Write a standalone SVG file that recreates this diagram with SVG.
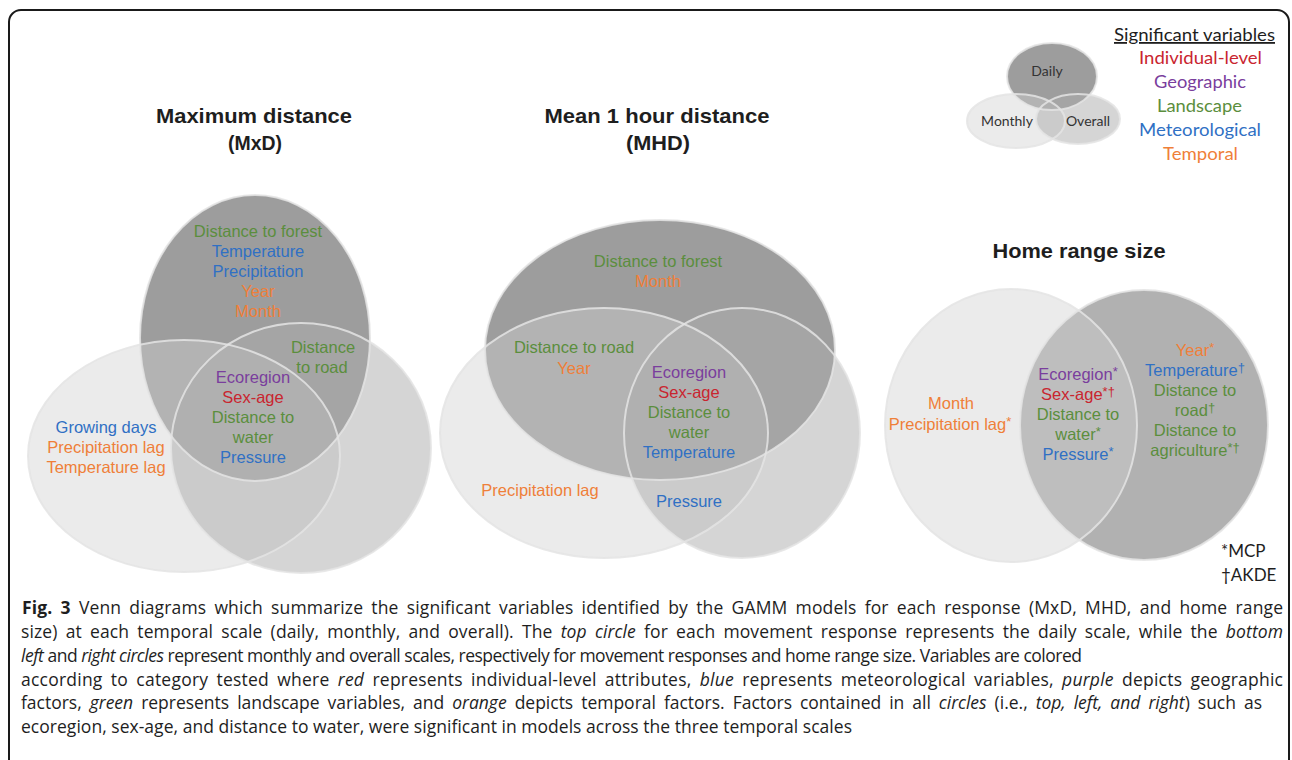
<svg xmlns="http://www.w3.org/2000/svg" width="1292" height="760" viewBox="0 0 1292 760">
  <style>
    .bg { fill: #ffffff; }
    .frame { fill: none; stroke: #1a1a1a; stroke-width: 2; }
    .daily { fill: #9d9d9d; }
    .monthly { fill: #d0d0d0; fill-opacity: 0.43; }
    .overall { fill: #adadad; fill-opacity: 0.51; }
    .overall-hr { fill: #b1b1b1; }
    .edge { fill: none; stroke: #e4e4e4; stroke-width: 2; stroke-opacity: 0.85; }
    .title { font-family: "Liberation Sans", Arial, sans-serif; font-weight: bold; font-size: 21px; fill: #1e1e1e; text-anchor: middle; }
    .v { font-family: "Liberation Sans", Arial, sans-serif; font-size: 16.5px; text-anchor: middle; }
    .g { fill: #5b8e3d; }
    .b { fill: #3070c4; }
    .o { fill: #ef7f39; }
    .p { fill: #7a3e9d; }
    .r { fill: #c9252f; }
    .lg { font-family: Lato, "Open Sans", sans-serif; font-size: 18px; text-anchor: middle; }
    .lk { font-family: Lato, "Open Sans", sans-serif; font-size: 14px; fill: #333333; text-anchor: middle; }
    .note { font-family: Lato, "Open Sans", sans-serif; font-size: 17px; fill: #1e1e1e; }
    .cap { font-family: "Open Sans", "Liberation Sans", sans-serif; font-size: 17.5px; fill: #1e1e1e; }
    .just { word-spacing: 3.5px; }
    .sup { font-size: 13px; }
  </style>

  <rect class="bg" x="0" y="0" width="1292" height="760"/>
  <rect class="frame" x="9" y="10" width="1280" height="800" rx="12" ry="12"/>

  <!-- Maximum distance (MxD) -->
  <g id="venn-mxd">
    <text class="title" x="254" y="123" textLength="196" lengthAdjust="spacingAndGlyphs">Maximum distance</text>
    <text class="title" x="255" y="150" textLength="54" lengthAdjust="spacingAndGlyphs">(MxD)</text>
    <g id="mxd-daily"><ellipse class="daily" cx="255" cy="338" rx="115" ry="143"/></g>
    <g id="mxd-monthly"><ellipse class="monthly" cx="184" cy="456" rx="156" ry="116"/></g>
    <g id="mxd-overall"><ellipse class="overall" cx="301" cy="448" rx="130" ry="125"/></g>
    <ellipse class="edge" cx="255" cy="338" rx="115" ry="143"/>
    <ellipse class="edge" cx="184" cy="456" rx="156" ry="116"/>
    <ellipse class="edge" cx="301" cy="448" rx="130" ry="125"/>
    <g class="v">
      <text class="g" x="258" y="237">Distance to forest</text>
      <text class="b" x="258" y="257">Temperature</text>
      <text class="b" x="258" y="277">Precipitation</text>
      <text class="o" x="258" y="297">Year</text>
      <text class="o" x="258" y="317">Month</text>
      <text class="g" x="323" y="353">Distance</text>
      <text class="g" x="322" y="373">to road</text>
      <text class="p" x="253" y="383">Ecoregion</text>
      <text class="r" x="253" y="403">Sex-age</text>
      <text class="g" x="253" y="423">Distance to</text>
      <text class="g" x="253" y="443">water</text>
      <text class="b" x="253" y="463">Pressure</text>
      <text class="b" x="106" y="433">Growing days</text>
      <text class="o" x="106" y="453">Precipitation lag</text>
      <text class="o" x="106" y="473">Temperature lag</text>
    </g>
  </g>

  <!-- Mean 1 hour distance (MHD) -->
  <g id="venn-mhd">
    <text class="title" x="657" y="123" textLength="225" lengthAdjust="spacingAndGlyphs">Mean 1 hour distance</text>
    <text class="title" x="658" y="150" textLength="64" lengthAdjust="spacingAndGlyphs">(MHD)</text>
    <g id="mhd-daily"><ellipse class="daily" cx="660" cy="350" rx="175" ry="130"/></g>
    <g id="mhd-monthly"><ellipse class="monthly" cx="604" cy="433" rx="164" ry="125"/></g>
    <g id="mhd-overall"><ellipse class="overall" cx="742" cy="433" rx="118" ry="125"/></g>
    <ellipse class="edge" cx="660" cy="350" rx="175" ry="130"/>
    <ellipse class="edge" cx="604" cy="433" rx="164" ry="125"/>
    <ellipse class="edge" cx="742" cy="433" rx="118" ry="125"/>
    <g class="v">
      <text class="g" x="658" y="267">Distance to forest</text>
      <text class="o" x="658" y="287">Month</text>
      <text class="g" x="574" y="353">Distance to road</text>
      <text class="o" x="574" y="374">Year</text>
      <text class="p" x="689" y="378">Ecoregion</text>
      <text class="r" x="689" y="398">Sex-age</text>
      <text class="g" x="689" y="418">Distance to</text>
      <text class="g" x="689" y="438">water</text>
      <text class="b" x="689" y="458">Temperature</text>
      <text class="o" x="540" y="496">Precipitation lag</text>
      <text class="b" x="689" y="507">Pressure</text>
    </g>
  </g>

  <!-- Home range size -->
  <g id="venn-home-range">
    <text class="title" x="1079" y="258" textLength="173" lengthAdjust="spacingAndGlyphs">Home range size</text>
    <g id="hr-overall"><ellipse class="overall-hr" cx="1144" cy="425" rx="124" ry="135"/></g>
    <g id="hr-monthly"><ellipse class="monthly" cx="1011" cy="425.5" rx="126" ry="136.5"/></g>
    <ellipse class="edge" cx="1144" cy="425" rx="124" ry="135"/>
    <ellipse class="edge" cx="1011" cy="425.5" rx="126" ry="136.5"/>
    <g class="v">
      <text class="o" x="951" y="409">Month</text>
      <text class="o" x="950" y="430">Precipitation lag<tspan class="sup" dy="-4">*</tspan></text>
      <text class="p" x="1078" y="380">Ecoregion<tspan class="sup" dy="-4">*</tspan></text>
      <text class="r" x="1078" y="400">Sex-age<tspan class="sup" dy="-4">*†</tspan></text>
      <text class="g" x="1078" y="420">Distance to</text>
      <text class="g" x="1078" y="440">water<tspan class="sup" dy="-4">*</tspan></text>
      <text class="b" x="1078" y="460">Pressure<tspan class="sup" dy="-4">*</tspan></text>
      <text class="o" x="1195" y="356">Year<tspan class="sup" dy="-4">*</tspan></text>
      <text class="b" x="1195" y="376">Temperature<tspan class="sup" dy="-4">†</tspan></text>
      <text class="g" x="1195" y="396">Distance to</text>
      <text class="g" x="1195" y="416">road<tspan class="sup" dy="-4">†</tspan></text>
      <text class="g" x="1195" y="436">Distance to</text>
      <text class="g" x="1195" y="456">agriculture<tspan class="sup" dy="-4">*†</tspan></text>
    </g>
    <text class="note" x="1221" y="557">*MCP</text>
    <text class="note" x="1221" y="581">†AKDE</text>
  </g>

  <!-- Key: scale circles and category colours -->
  <g id="key">
    <g id="key-daily"><ellipse class="daily" cx="1052" cy="76.5" rx="45" ry="33.5"/></g>
    <g id="key-monthly"><ellipse class="monthly" cx="1016" cy="121" rx="49" ry="27"/></g>
    <g id="key-overall"><ellipse class="overall" cx="1078" cy="119" rx="42" ry="25"/></g>
    <ellipse class="edge" cx="1052" cy="76.5" rx="45" ry="33.5"/>
    <ellipse class="edge" cx="1016" cy="121" rx="49" ry="27"/>
    <ellipse class="edge" cx="1078" cy="119" rx="42" ry="25"/>
    <text class="lk" x="1047" y="76">Daily</text>
    <text class="lk" x="1007" y="126">Monthly</text>
    <text class="lk" x="1088" y="126">Overall</text>
    <text class="lg" x="1194.5" y="41" fill="#1e1e1e" text-decoration="underline" textLength="161" lengthAdjust="spacingAndGlyphs">Significant variables</text>
    <text class="lg r" x="1200.5" y="64" textLength="123" lengthAdjust="spacingAndGlyphs">Individual-level</text>
    <text class="lg p" x="1200" y="88" textLength="92" lengthAdjust="spacingAndGlyphs">Geographic</text>
    <text class="lg g" x="1199.5" y="112" textLength="85" lengthAdjust="spacingAndGlyphs">Landscape</text>
    <text class="lg b" x="1200" y="136" textLength="122" lengthAdjust="spacingAndGlyphs">Meteorological</text>
    <text class="lg o" x="1200.5" y="160" textLength="75" lengthAdjust="spacingAndGlyphs">Temporal</text>
  </g>

  <g id="connectors"/>

  <!-- Figure caption; justified lines get a little extra word spacing -->
  <g id="caption" class="cap">
    <text class="just" x="22" y="614" textLength="1261" lengthAdjust="spacing"><tspan font-weight="bold">Fig. 3</tspan> Venn diagrams which summarize the significant variables identified by the GAMM models for each response (MxD, MHD, and home range</text>
    <text class="just" x="21" y="638" textLength="1262" lengthAdjust="spacing">size) at each temporal scale (daily, monthly, and overall). The <tspan font-style="italic">top circle</tspan> for each movement response represents the daily scale, while the <tspan font-style="italic">bottom</tspan></text>
    <text x="21" y="662" textLength="1061" lengthAdjust="spacing"><tspan font-style="italic">left</tspan> and <tspan font-style="italic">right circles</tspan> represent monthly and overall scales, respectively for movement responses and home range size. Variables are colored</text>
    <text class="just" x="21" y="686" textLength="1262" lengthAdjust="spacing">according to category tested where <tspan font-style="italic">red</tspan> represents individual-level attributes, <tspan font-style="italic">blue</tspan> represents meteorological variables, <tspan font-style="italic">purple</tspan> depicts geographic</text>
    <text class="just" x="21" y="709" textLength="1241" lengthAdjust="spacing">factors, <tspan font-style="italic">green</tspan> represents landscape variables, and <tspan font-style="italic">orange</tspan> depicts temporal factors. Factors contained in all <tspan font-style="italic">circles</tspan> (i.e., <tspan font-style="italic">top, left, and right</tspan>) such as</text>
    <text x="21" y="733" textLength="831" lengthAdjust="spacing">ecoregion, sex-age, and distance to water, were significant in models across the three temporal scales</text>
  </g>
</svg>
